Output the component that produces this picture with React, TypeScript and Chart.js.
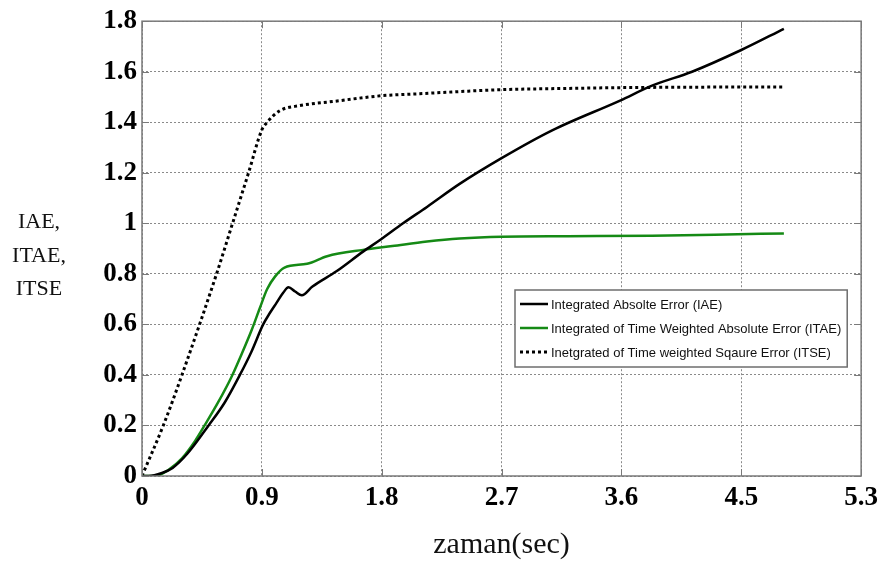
import React, { useEffect, useRef } from 'react';
import { Chart, registerables } from 'chart.js';

Chart.register(...registerables);

// ---- Data ----
const seriesLabels = [
  'Integrated Absolte Error (IAE)',
  'Integrated of Time Weighted Absolute Error (ITAE)',
  'Inetgrated of Time weighted Sqaure Error (ITSE)',
];

const iaeX = [0, 0.05, 0.15, 0.23, 0.34, 0.5, 0.62, 0.735, 0.82, 0.91, 0.96, 1.01, 1.06, 1.1, 1.15, 1.2, 1.28, 1.46, 1.66, 1.79, 1.96, 2.14, 2.385, 2.7, 3.08, 3.59, 3.83, 4.13, 4.5, 4.82];
const iaeY = [0, 0, 0.012, 0.032, 0.088, 0.2, 0.29, 0.4, 0.49, 0.6, 0.645, 0.685, 0.725, 0.747, 0.73, 0.715, 0.75, 0.81, 0.888, 0.935, 1.0, 1.065, 1.156, 1.258, 1.368, 1.486, 1.545, 1.6, 1.686, 1.77];

const itaeX = [0, 0.1, 0.2, 0.3, 0.4, 0.47, 0.57, 0.67, 0.75, 0.825, 0.885, 0.94, 1.0, 1.07, 1.24, 1.39, 1.66, 1.88, 2.14, 2.385, 2.7, 3.2, 3.83, 4.3, 4.82];
const itaeY = [0, 0, 0.025, 0.07, 0.14, 0.2, 0.29, 0.39, 0.485, 0.58, 0.665, 0.74, 0.79, 0.825, 0.84, 0.87, 0.895, 0.91, 0.928, 0.94, 0.947, 0.949, 0.951, 0.955, 0.96];

const itseX = [0, 0.16, 0.3, 0.56, 0.68, 0.8, 0.9, 0.94, 1.035, 1.185, 1.43, 1.8, 2.085, 2.7, 3.2, 3.59, 4.2, 4.81];
const itseY = [0, 0.2, 0.4, 0.8, 1.0, 1.2, 1.37, 1.4, 1.446, 1.466, 1.482, 1.505, 1.513, 1.529, 1.534, 1.537, 1.539, 1.54];

const xTickValues = [0, 0.9, 1.8, 2.7, 3.6, 4.5, 5.4];
const xTickLabels = ['0', '0.9', '1.8', '2.7', '3.6', '4.5', '5.3'];
const yTickValues = [0, 0.2, 0.4, 0.6, 0.8, 1.0, 1.2, 1.4, 1.6, 1.8];
const yTickLabels = ['0', '0.2', '0.4', '0.6', '0.8', '1', '1.2', '1.4', '1.6', '1.8'];

const xTitle = 'zaman(sec)';
const yTitleLines = ['IAE,', 'ITAE,', 'ITSE'];

const toPoints = (xs: number[], ys: number[]) => xs.map((x, i) => ({ x, y: ys[i] }));

const framePlugin = {
  id: 'framePlugin',
  afterDraw(chart: any) {
    const ctx = chart.ctx as CanvasRenderingContext2D;
    const { left, top, right, bottom } = chart.chartArea;
    const xs = chart.scales.x;
    const ys = chart.scales.y;
    ctx.save();
    ctx.setLineDash([]);
    ctx.strokeStyle = '#7a7a7a';
    ctx.lineWidth = 1.5;
    ctx.strokeRect(left, top, right - left, bottom - top);
    ctx.lineWidth = 1;
    const tl = 7;
    ctx.beginPath();
    xTickValues.forEach((v) => {
      const px = Math.round(xs.getPixelForValue(v)) + 0.5;
      ctx.moveTo(px, bottom);
      ctx.lineTo(px, bottom - tl);
      ctx.moveTo(px, top);
      ctx.lineTo(px, top + tl);
    });
    yTickValues.forEach((v) => {
      const py = Math.round(ys.getPixelForValue(v)) + 0.5;
      ctx.moveTo(left, py);
      ctx.lineTo(left + tl, py);
      ctx.moveTo(right, py);
      ctx.lineTo(right - tl, py);
    });
    ctx.stroke();

    // Y title (horizontal lines of text)
    ctx.fillStyle = '#111';
    ctx.font = '22px "Liberation Serif", "Times New Roman", serif';
    ctx.textAlign = 'center';
    ctx.textBaseline = 'middle';
    const yLines = [222, 256, 289];
    yTitleLines.forEach((t, i) => ctx.fillText(t, 39, yLines[i]));

    // Legend
    ctx.font = '13px "Liberation Sans", Arial, sans-serif';
    ctx.textAlign = 'left';
    const bx = 515;
    const by = 290;
    const sampleX0 = 520;
    const sampleX1 = 548;
    const textX = 551;
    const rowY = [304, 328, 352];
    let maxW = 0;
    seriesLabels.forEach((t) => { maxW = Math.max(maxW, ctx.measureText(t).width); });
    const bw = textX + maxW + 6 - bx;
    const bh = 77;
    ctx.fillStyle = '#fff';
    ctx.fillRect(bx, by, bw, bh);
    ctx.strokeStyle = '#6e6e6e';
    ctx.lineWidth = 1.5;
    ctx.strokeRect(bx, by, bw, bh);
    chart.data.datasets.forEach((ds: any, i: number) => {
      ctx.save();
      ctx.strokeStyle = ds.borderColor;
      ctx.lineWidth = ds.borderWidth;
      ctx.lineCap = 'butt';
      ctx.setLineDash(ds.borderDash || []);
      ctx.beginPath();
      ctx.moveTo(sampleX0, rowY[i]);
      ctx.lineTo(sampleX1, rowY[i]);
      ctx.stroke();
      ctx.restore();
      ctx.fillStyle = '#111';
      ctx.fillText(seriesLabels[i], textX, rowY[i] + 1);
    });
    ctx.restore();
  },
};

export default function App() {
  const canvasRef = useRef<HTMLCanvasElement | null>(null);

  useEffect(() => {
    const canvas = canvasRef.current;
    if (!canvas) return;
    const serif = '"Liberation Serif", "Times New Roman", serif';
    const chart = new Chart(canvas, {
      type: 'line',
      data: {
        datasets: [
          {
            label: seriesLabels[0],
            data: toPoints(iaeX, iaeY),
            borderColor: '#000000',
            borderWidth: 2.5,
            pointRadius: 0,
            cubicInterpolationMode: 'monotone',
            fill: false,
          },
          {
            label: seriesLabels[1],
            data: toPoints(itaeX, itaeY),
            borderColor: '#158a15',
            borderWidth: 2.5,
            pointRadius: 0,
            cubicInterpolationMode: 'monotone',
            fill: false,
          },
          {
            label: seriesLabels[2],
            data: toPoints(itseX, itseY),
            borderColor: '#000000',
            borderWidth: 3,
            borderDash: [3, 3],
            borderCapStyle: 'butt',
            pointRadius: 0,
            cubicInterpolationMode: 'monotone',
            fill: false,
          },
        ],
      },
      options: {
        responsive: false,
        animation: false,
        devicePixelRatio: 1,
        layout: { padding: { left: 0, right: 22, top: 18, bottom: 0 } },
        plugins: {
          legend: { display: false },
          tooltip: { enabled: false },
        },
        scales: {
          x: {
            type: 'linear',
            min: 0,
            max: 5.4,
            afterBuildTicks: (scale: any) => {
              scale.ticks = xTickValues.map((v) => ({ value: v }));
            },
            afterFit: (scale: any) => {
              scale.height = 86;
            },
            ticks: {
              autoSkip: false,
              maxRotation: 0,
              padding: 6,
              color: '#000',
              font: { family: serif, size: 27, weight: 'bold' },
              callback: (_v: any, i: number) => xTickLabels[i],
            },
            grid: { color: '#8a8a8a', lineWidth: 1, drawTicks: false },
            border: { display: false, dash: [2, 2] },
            title: {
              display: true,
              text: xTitle,
              color: '#111',
              padding: { top: 0, bottom: 0 },
              font: { family: serif, size: 30, weight: 'normal', lineHeight: 1.1 },
            },
          },
          y: {
            type: 'linear',
            min: 0,
            max: 1.8,
            afterBuildTicks: (scale: any) => {
              scale.ticks = yTickValues.map((v) => ({ value: v }));
            },
            afterFit: (scale: any) => {
              scale.width = 142;
            },
            ticks: {
              autoSkip: false,
              padding: 5,
              color: '#000',
              font: { family: serif, size: 27, weight: 'bold' },
              callback: (_v: any, i: number) => yTickLabels[i],
            },
            grid: { color: '#8a8a8a', lineWidth: 1, drawTicks: false },
            border: { display: false, dash: [2, 2] },
          },
        },
      },
      plugins: [framePlugin],
    } as any);
    return () => chart.destroy();
  }, []);

  return (
    <div style={{ position: 'absolute', left: 0, top: 0, width: 884, height: 562, background: '#fff' }}>
      <canvas ref={canvasRef} width={884} height={562} style={{ width: 884, height: 562, display: 'block' }} />
    </div>
  );
}
